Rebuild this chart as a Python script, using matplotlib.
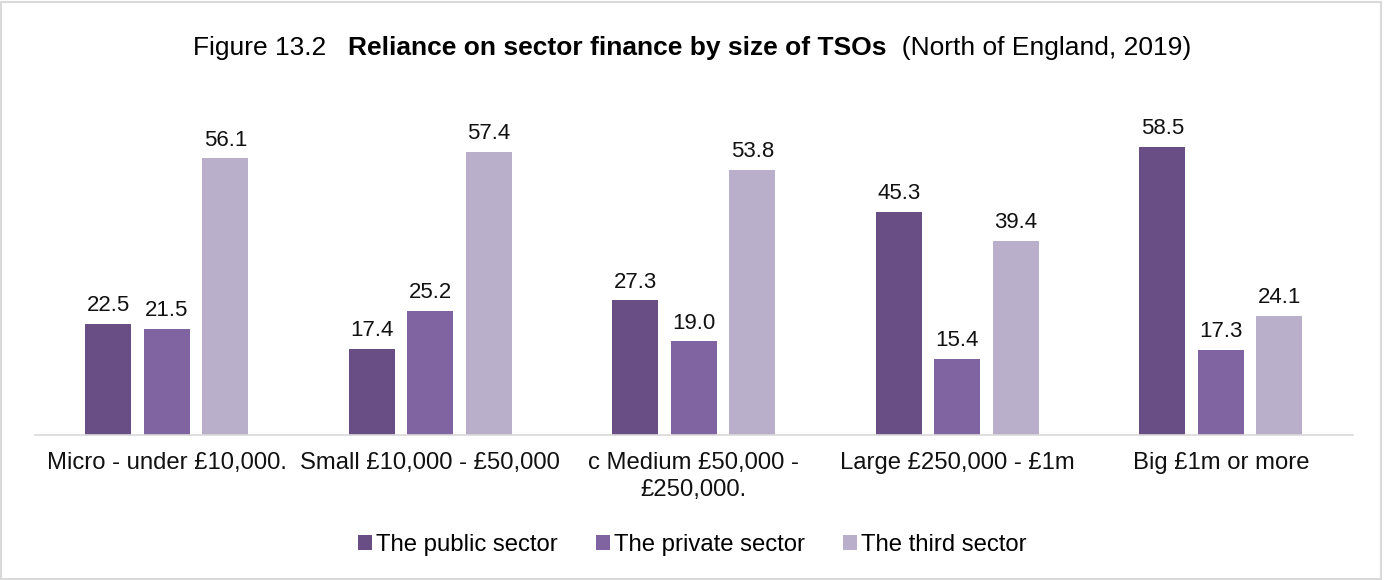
import matplotlib.pyplot as plt
import numpy as np
from matplotlib.patches import Rectangle

plt.rcParams['font.family'] = ['Liberation Sans', 'DejaVu Sans']

categories = ['Micro - under £10,000.', 'Small £10,000 - £50,000',
              'c Medium £50,000 -\n£250,000.', 'Large £250,000 - £1m', 'Big £1m or more']
series_names = ['The public sector', 'The private sector', 'The third sector']
public = [22.5, 17.4, 27.3, 45.3, 58.5]
private = [21.5, 25.2, 19.0, 15.4, 17.3]
third = [56.1, 57.4, 53.8, 39.4, 24.1]

colors = ['#684E85', '#8064A2', '#B9AFCB']

fig = plt.figure(figsize=(13.84, 5.8), dpi=100)
ax = fig.add_axes([0.0253, 0.25, 0.952, 0.595])

x = np.arange(len(categories))
width = 0.175
offset = 0.222
for i, (vals, name) in enumerate(zip([public, private, third], series_names)):
    bars = ax.bar(x + (i - 1) * offset, vals, width, color=colors[i], label=name)
    for b, v in zip(bars, vals):
        ax.text(b.get_x() + b.get_width() / 2, v + 3.7, f'{v:.1f}',
                ha='center', va='center', fontsize=16, color='#111111')

ax.set_xlim(-0.5, len(categories) - 0.5)
ax.set_ylim(0, 70)
ax.set_yticks([])
ax.set_xticks(x)
ax.set_xticklabels(categories, fontsize=17.2, color='#111111', linespacing=1.3)
ax.tick_params(axis='x', length=0, pad=12)
for s in ['top', 'right', 'left']:
    ax.spines[s].set_visible(False)
ax.spines['bottom'].set_color('#D9D9D9')
ax.spines['bottom'].set_linewidth(1.2)

# title in three runs: plain, bold, plain
title_y = 0.917
fs = 19
parts = [('Figure 13.2   ', 'normal'),
         ('Reliance on sector finance by size of TSOs', 'bold'),
         ('  (North of England, 2019)', 'normal')]
r = fig.canvas.get_renderer()
texts = []
xpos = 0.0
for s, w in parts:
    t = fig.text(xpos, title_y, s, ha='left', va='center', fontsize=fs, fontweight=w)
    bb = t.get_window_extent(r).transformed(fig.transFigure.inverted())
    texts.append(t)
    xpos = bb.x1
start = 0.5 - xpos / 2
xpos = start
for t in texts:
    t.set_x(xpos)
    bb = t.get_window_extent(r).transformed(fig.transFigure.inverted())
    xpos = bb.x1

fig.legend(loc='center', bbox_to_anchor=(0.5, 0.06), ncol=3, frameon=False,
           fontsize=17.2, handlelength=0.6, handleheight=0.6, handletextpad=0.15,
           columnspacing=1.6)

fig.patches.append(Rectangle((0.001, 0.002), 0.997, 0.995, transform=fig.transFigure,
                             fill=False, edgecolor='#D9D9D9', linewidth=1.5))

fig.savefig('out.png', dpi=100, facecolor='white')
